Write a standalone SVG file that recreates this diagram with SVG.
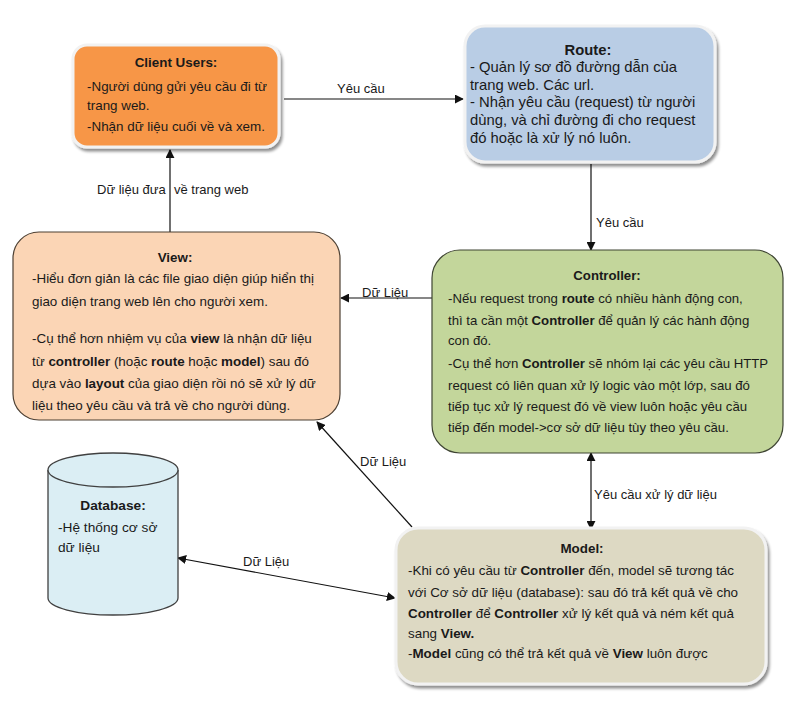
<svg xmlns="http://www.w3.org/2000/svg" width="798" height="702" viewBox="0 0 798 702">
<style>
text{font-family:"Liberation Sans",Arial,sans-serif;font-size:13.4px;fill:#1a1a1a}
.t{font-weight:bold;text-anchor:middle}
.b{font-weight:bold}
.lbl{font-size:13px}
.ln{stroke:#111;stroke-width:1.2;fill:none}
.glow{stroke:#f2f2f2;stroke-width:3}
#route text{font-size:14.8px}
#controller text{font-size:13.2px}
#database text{font-size:13.7px}
</style>
<defs>
<marker id="ah" viewBox="0 0 10 10" refX="9" refY="5" markerWidth="9" markerHeight="9" markerUnits="userSpaceOnUse" orient="auto-start-reverse">
<path d="M0,0 L10,5 L0,10 z" fill="#111"/>
</marker>
<filter id="sh" x="-10%" y="-10%" width="125%" height="130%">
<feGaussianBlur in="SourceAlpha" stdDeviation="1.5"/>
<feOffset dx="2" dy="3" result="o"/>
<feComponentTransfer><feFuncA type="linear" slope="0.45"/></feComponentTransfer>
<feMerge><feMergeNode/><feMergeNode in="SourceGraphic"/></feMerge>
</filter>
</defs>
<rect width="798" height="702" fill="#fff"/>

<g id="connectors">
<line class="ln" x1="284" y1="99" x2="463" y2="99" marker-end="url(#ah)"/>
<text class="lbl" x="337" y="93">Yêu cầu</text>
<line class="ln" x1="591" y1="164" x2="591" y2="250" marker-end="url(#ah)"/>
<text class="lbl" x="596" y="227">Yêu cầu</text>
<line class="ln" x1="432" y1="298" x2="341" y2="298" marker-end="url(#ah)"/>
<text class="lbl" x="362" y="297">Dữ Liệu</text>
<line class="ln" x1="170" y1="232" x2="170" y2="150" marker-end="url(#ah)"/>
<text class="lbl" x="97" y="194"><tspan>Dữ liệu đưa</tspan><tspan x="174">về trang web</tspan></text>
<line class="ln" x1="591" y1="453" x2="591" y2="529" marker-start="url(#ah)" marker-end="url(#ah)"/>
<text class="lbl" x="594" y="499">Yêu cầu xử lý dữ liệu</text>
<line class="ln" x1="412" y1="527" x2="317" y2="422" marker-end="url(#ah)"/>
<text class="lbl" x="360" y="466">Dữ Liệu</text>
<line class="ln" x1="178" y1="558" x2="395" y2="598" marker-start="url(#ah)" marker-end="url(#ah)"/>
<text class="lbl" x="243" y="566">Dữ Liệu</text>
</g>

<g id="client">
<rect x="73" y="45" width="206" height="102" rx="14" fill="#F79646" class="glow" filter="url(#sh)"/>
<text class="t" x="176" y="67">Client Users:</text>
<text x="87" y="91">-Người dùng gửi yêu cầu đi từ</text>
<text x="87" y="110">trang web.</text>
<text x="87" y="131">-Nhận dữ liệu cuối về và xem.</text>
</g>

<g id="route">
<rect x="465" y="26" width="250" height="136" rx="20" fill="#B9CDE5" class="glow" filter="url(#sh)"/>
<text class="t" x="588" y="55">Route:</text>
<text x="470" y="72">- Quản lý sơ đồ đường dẫn của</text>
<text x="470" y="90">trang web. Các url.</text>
<text x="470" y="107">- Nhận yêu cầu (request) từ người</text>
<text x="470" y="125">dùng, và chỉ đường đi cho request</text>
<text x="470" y="143">đó hoặc là xử lý nó luôn.</text>
</g>

<g id="view">
<rect x="13" y="232" width="327" height="188" rx="26" fill="#FBD5B5" stroke="#4d4033" stroke-width="1.2"/>
<text class="t" x="175" y="262">View:</text>
<text x="32" y="283">-Hiểu đơn giản là các file giao diện giúp hiển thị</text>
<text x="32" y="306">giao diện trang web lên cho người xem.</text>
<text x="32" y="343">-Cụ thể hơn nhiệm vụ của <tspan class="b">view</tspan> là nhận dữ liệu</text>
<text x="32" y="366">từ <tspan class="b">controller</tspan> (hoặc <tspan class="b">route</tspan> hoặc <tspan class="b">model</tspan>) sau đó</text>
<text x="32" y="388">dựa vào <tspan class="b">layout</tspan> của giao diện rồi nó sẽ xử lý dữ</text>
<text x="32" y="410">liệu theo yêu cầu và trả về cho người dùng.</text>
</g>

<g id="controller">
<rect x="432" y="250" width="351" height="203" rx="28" fill="#C3D69B" stroke="#3f4533" stroke-width="1.2"/>
<text class="t" x="607" y="280">Controller:</text>
<text x="448" y="303">-Nếu request trong <tspan class="b">route</tspan> có nhiều hành động con,</text>
<text x="448" y="325">thì ta cần một <tspan class="b">Controller</tspan> để quản lý các hành động</text>
<text x="448" y="345">con đó.</text>
<text x="448" y="368">-Cụ thể hơn <tspan class="b">Controller</tspan> sẽ nhóm lại các yêu cầu HTTP</text>
<text x="448" y="390">request có liên quan xử lý logic vào một lớp, sau đó</text>
<text x="448" y="411">tiếp tục xử lý request đó về view luôn hoặc yêu cầu</text>
<text x="448" y="432">tiếp đến model-&gt;cơ sở dữ liệu tùy theo yêu cầu.</text>
</g>

<g id="model">
<rect x="396" y="528" width="370" height="156" rx="22" fill="#DDD9C3" class="glow" filter="url(#sh)"/>
<text class="t" x="582" y="553">Model:</text>
<text x="408" y="575">-Khi có yêu cầu từ <tspan class="b">Controller</tspan> đến, model sẽ tương tác</text>
<text x="408" y="597">với Cơ sở dữ liệu (database): sau đó trả kết quả về cho</text>
<text x="408" y="618"><tspan class="b">Controller</tspan> để <tspan class="b">Controller</tspan> xử lý kết quả và ném kết quả</text>
<text x="408" y="638">sang <tspan class="b">View.</tspan></text>
<text x="408" y="658">-<tspan class="b">Model</tspan> cũng có thể trả kết quả về <tspan class="b">View</tspan> luôn được</text>
</g>

<g id="database">
<path d="M48,470 L48,598 A65,17 0 0 0 178,598 L178,470" fill="#DBEEF4" stroke="#404040" stroke-width="1.3"/>
<ellipse cx="113" cy="470" rx="65" ry="17" fill="#DBEEF4" stroke="#404040" stroke-width="1.3"/>
<text class="t" x="113" y="510">Database:</text>
<text x="58" y="532">-Hệ thống cơ sở</text>
<text x="58" y="552">dữ liệu</text>
</g>
</svg>
